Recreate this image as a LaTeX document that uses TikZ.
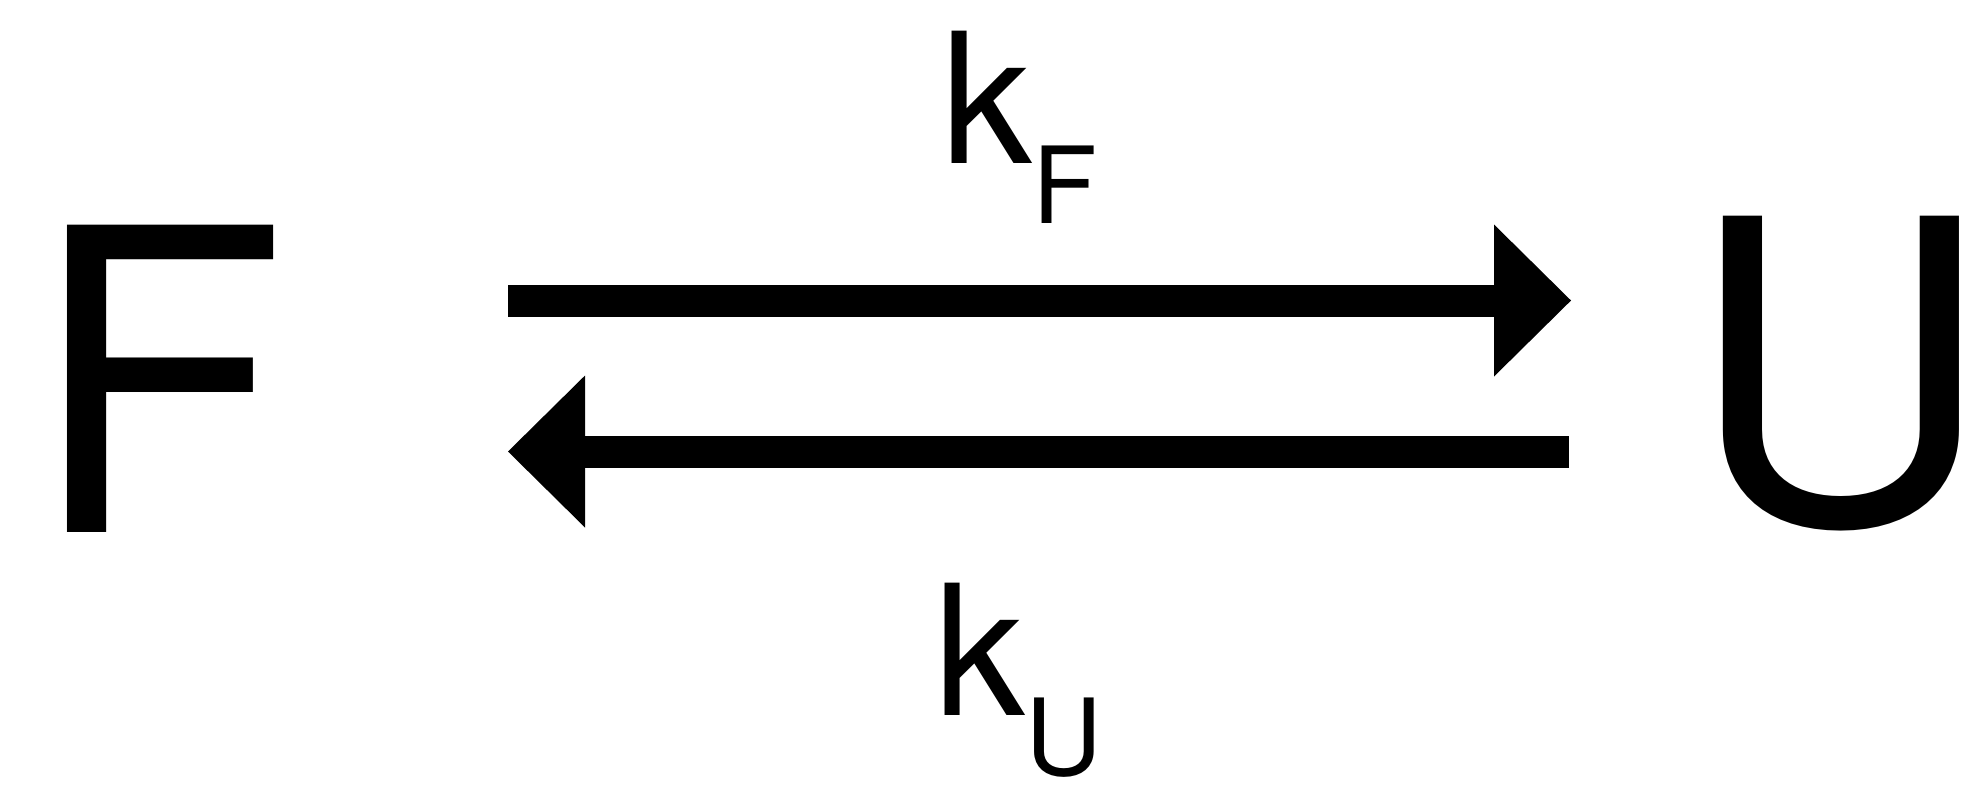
\documentclass[tikz,border=0pt]{standalone}
\usepackage{fontspec}
\setmainfont{TeX Gyre Heros}
\newfontfamily\hvfont{TeX Gyre Heros}
\usetikzlibrary{arrows.meta}
\tikzset{
  big/.style={inner sep=0pt, anchor=base west, font=\hvfont\fontsize{105.4}{105}\selectfont},
  rate/.style={inner sep=0pt, anchor=base west, font=\hvfont\fontsize{45.4}{45}\selectfont},
  arr/.style={line width=8pt, -{Triangle[length=19.25pt,width=38pt,line width=0pt]}},
}
\newcommand{\subtxt}[1]{\raisebox{-15.2pt}{\hvfont\fontsize{26.6}{26}\selectfont #1}}
\begin{document}
\begin{tikzpicture}[x=0.25pt,y=-0.25pt]
\useasboundingbox (0,0) rectangle (1976,784);
\node[big] (F) at (29,532) {F};
\node[big] (U) at (1687,523) {U};
\node[rate] (kF) at (941,163) {k\subtxt{F}};
\node[rate] (kU) at (934,715) {k\subtxt{U}};
\coordinate (t1) at (508,300.5);
\coordinate (t2) at (1571,300.5);
\coordinate (b1) at (1569,451.5);
\coordinate (b2) at (508,451.5);
\draw[arr] (t1) -- (t2);
\draw[arr] (b1) -- (b2);
\end{tikzpicture}
\end{document}
